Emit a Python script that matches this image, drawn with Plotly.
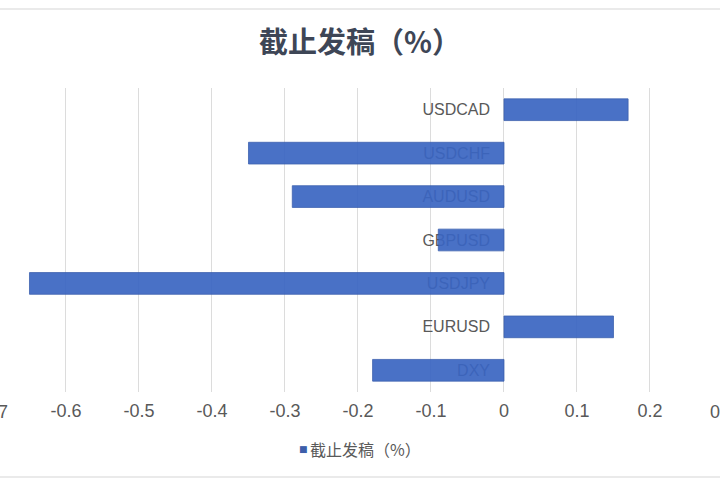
import plotly.graph_objects as go

categories = ["DXY", "EURUSD", "USDJPY", "GBPUSD", "AUDUSD", "USDCHF", "USDCAD"]
values = [-0.18, 0.15, -0.65, -0.09, -0.29, -0.35, 0.17]
x_ticks = [-0.7, -0.6, -0.5, -0.4, -0.3, -0.2, -0.1, 0, 0.1, 0.2, 0.3]
x_tick_labels = ["-0.7", "-0.6", "-0.5", "-0.4", "-0.3", "-0.2", "-0.1", "0", "0.1", "0.2", "0.3"]
series_name = "截止发稿（%）"
title_text = "截止发稿（%）"

CJK = "Noto Sans CJK SC, Noto Sans, sans-serif"
LATIN = "Liberation Sans Narrow, Liberation Sans, Arial, sans-serif"
BAR_COLOR = "#3A65C2"
x_range = [-0.6904, 0.2959]
zero_pos = (0 - x_range[0]) / (x_range[1] - x_range[0])

W, H, T, B = 720, 480, 88, 88
plot_h = H - T - B


def py(pix):
    """pixel row (from top) -> paper y"""
    return (H - B - pix) / plot_h


def px(xval):
    """data x -> paper x (may fall outside [0, 1])"""
    return (xval - x_range[0]) / (x_range[1] - x_range[0])


fig = go.Figure()
fig.add_trace(go.Bar(
    y=categories, x=values, orientation="h", name=series_name,
    marker=dict(color=BAR_COLOR, line=dict(color="#2F56A8", width=0.8)),
    opacity=0.92, width=0.5, showlegend=False,
))

fig.update_layout(
    width=W, height=H,
    margin=dict(l=0, r=0, t=T, b=B),
    paper_bgcolor="white", plot_bgcolor="white",
    title=dict(text=title_text, x=0.5, xanchor="center", y=1 - 43 / H, yanchor="middle",
               font=dict(family=CJK, size=29, color="#3E4656", weight="bold")),
    font=dict(family=LATIN, size=16, color="#595959"),
    showlegend=False,
    xaxis=dict(range=x_range, tickvals=x_ticks, ticktext=x_tick_labels,
               showgrid=True, gridcolor="#DCDCDC", gridwidth=1,
               zeroline=False, showline=False, ticks="",
               tickfont=dict(family=LATIN, size=18, color="#595959"),
               ticklabelstandoff=6, fixedrange=True),
    yaxis=dict(categoryorder="array", categoryarray=categories,
               anchor="free", position=zero_pos, layer="below traces",
               showgrid=False, zeroline=False, showline=False, ticks="",
               tickfont=dict(family=LATIN, size=16, color="#595959"),
               ticklabelstandoff=14, fixedrange=True),
)

# edge tick labels cut off by the chart frame (-0.7 on the left, 0.3 on the right)
for xv, lbl in [(-0.7, "-0.7"), (0.3, "0.3")]:
    fig.add_annotation(x=px(xv), xref="paper", y=py(412), yref="paper",
                       text=lbl, showarrow=False, xanchor="center", yanchor="middle",
                       font=dict(family=LATIN, size=18, color="#595959"))

# legend (small square + series name)
fig.add_annotation(x=303 / W, xref="paper", y=py(449), yref="paper",
                   text="■", showarrow=False, xanchor="center", yanchor="middle",
                   font=dict(family="DejaVu Sans", size=9, color="#3D5EAA"))
fig.add_annotation(x=308 / W, xref="paper", y=py(449), yref="paper",
                   text=series_name, showarrow=False, xanchor="left", yanchor="middle",
                   font=dict(family=CJK, size=16, color="#595959"))

# chart frame edges
fig.add_shape(type="line", xref="paper", yref="paper", x0=0, x1=1,
              y0=py(9), y1=py(9), line=dict(color="#E3E3E3", width=1.5))
fig.add_shape(type="line", xref="paper", yref="paper", x0=0, x1=1,
              y0=py(477), y1=py(477), line=dict(color="#E3E3E3", width=1.5))

fig.write_html("out.html", config={"displayModeBar": False},
               post_script="document.body.style.margin='0';document.body.style.overflow='hidden';")
